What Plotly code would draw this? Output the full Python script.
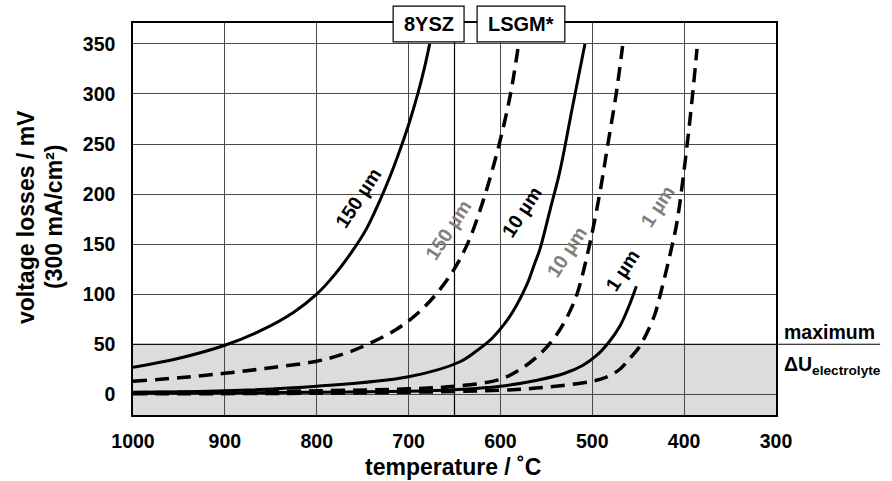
import plotly.graph_objects as go

# ---------------- data ----------------
t_ysz_150 = [1000, 950, 900, 860, 825, 800, 780, 762, 746, 732, 720, 709, 699, 690, 683, 677]
v_ysz_150 = [27, 36, 49, 64, 82, 100, 120, 142, 165, 192, 218, 245, 272, 300, 325, 350]

t_lsgm_150 = [1000, 950, 900, 850, 800, 770, 742, 713, 690, 670, 651, 635, 620, 607, 596, 588, 581]
v_lsgm_150 = [13, 16.5, 21, 26.5, 33, 40.5, 51, 65, 81, 100, 124, 152, 190, 230, 270, 305, 345]

t_ysz_10 = [1000, 900, 800, 700, 644, 625, 609, 595, 583, 571, 563, 557, 546, 535, 522, 508]
v_ysz_10 = [2, 3.5, 8, 17.5, 32.5, 44, 56, 71, 88, 110, 130, 145, 184, 224, 285, 350]

t_lsgm_10 = [1000, 900, 800, 700, 650, 600, 575, 555, 540, 527, 517, 504, 492, 483, 474, 467]
v_lsgm_10 = [1.5, 2.5, 3.5, 5.5, 8, 15, 27, 42, 58, 78, 99, 145, 200, 250, 300, 348]

t_ysz_1 = [1000, 900, 800, 700, 650, 600, 560, 530, 510, 495, 482, 470, 461, 452]
v_ysz_1 = [1, 1.5, 2, 3, 4.5, 8, 14, 21, 29, 39, 52, 68, 86, 108]

t_lsgm_1 = [1000, 800, 700, 600, 550, 500, 485, 470, 460, 449, 433, 427, 416, 408, 401, 393, 386]
v_lsgm_1 = [0.5, 1, 2, 4, 7, 13, 17, 25, 35, 47, 77, 96, 137, 171, 217, 280, 345]

x_ticks = [1000, 900, 800, 700, 600, 500, 400, 300]
y_ticks = [0, 50, 100, 150, 200, 250, 300, 350]

labels = [  # text, x, y, color
    ("150 µm", 755, 196, "black"),
    ("150 µm", 657, 164, "#808080"),
    ("10 µm", 577, 182, "black"),
    ("10 µm", 528, 142, "#808080"),
    ("1 µm", 467, 124, "black"),
    ("1 µm", 429, 188, "#808080"),
]

FONT = "Liberation Sans, Arial, Helvetica, sans-serif"
fig = go.Figure()

series = [
    (t_ysz_150, v_ysz_150, "solid"),
    (t_lsgm_150, v_lsgm_150, "dash"),
    (t_ysz_10, v_ysz_10, "solid"),
    (t_lsgm_10, v_lsgm_10, "dash"),
    (t_ysz_1, v_ysz_1, "solid"),
    (t_lsgm_1, v_lsgm_1, "dash"),
]
for t, v, st in series:
    fig.add_trace(go.Scatter(
        x=t, y=v, mode="lines", showlegend=False, hoverinfo="skip",
        line=dict(color="black", width=3 if st == "solid" else 3.5,
                  dash="solid" if st == "solid" else "14px,8px",
                  shape="spline", smoothing=1.0),
    ))

shapes = []
# grey band below the 50 mV limit
shapes.append(dict(type="rect", xref="paper", yref="y", x0=0, x1=1, y0=-25, y1=50,
                   fillcolor="#dcdcdc", line=dict(width=0), layer="below"))
# 650 degC line
shapes.append(dict(type="line", xref="x", yref="paper", x0=650, x1=650, y0=0, y1=1,
                   line=dict(color="black", width=1.2), layer="above"))
# 50 mV limit line extending to the right
shapes.append(dict(type="line", xref="paper", yref="y", x0=0, x1=1.162, y0=50, y1=50,
                   line=dict(color="black", width=1.2), layer="above"))
# boxes
for x0, x1 in [(716.8, 639.6), (625.4, 529.9)]:
    shapes.append(dict(type="rect", xref="x", yref="paper", x0=x0, x1=x1, y0=0.9516, y1=1.0433,
                       fillcolor="white", line=dict(color="black", width=1.2), layer="above"))

ann = []
ann.append(dict(text="8YSZ", x=678.2, y=0.9975, xref="x", yref="paper", showarrow=False,
                xanchor="center", yanchor="middle",
                font=dict(family=FONT, size=20, color="black", weight="bold")))
ann.append(dict(text="LSGM*", x=577.6, y=0.9975, xref="x", yref="paper", showarrow=False,
                xanchor="center", yanchor="middle",
                font=dict(family=FONT, size=20, color="black", weight="bold")))
for txt, x, y, c in labels:
    ann.append(dict(text=txt, x=x, y=y, xref="x", yref="y", showarrow=False, textangle=-57,
                    font=dict(family=FONT, size=19.5, color=c, weight="bold")))
ann.append(dict(text="maximum", x=1.0093, y=62, xref="paper", yref="y", showarrow=False,
                xanchor="left", yanchor="middle",
                font=dict(family=FONT, size=19.5, color="black", weight="bold")))
ann.append(dict(text="ΔU<sub>electrolyte</sub>", x=1.0093, y=29, xref="paper", yref="y",
                showarrow=False, xanchor="left", yanchor="middle",
                font=dict(family=FONT, size=19.5, color="black", weight="bold")))
ann.append(dict(text="temperature / ˚C", x=0.498, y=-0.1326, xref="paper", yref="paper",
                showarrow=False, xanchor="center", yanchor="middle",
                font=dict(family=FONT, size=23, color="black", weight="bold")))
ann.append(dict(text="voltage losses / mV", x=-0.1664, y=0.505, xref="paper", yref="paper",
                showarrow=False, textangle=-90, xanchor="center", yanchor="middle",
                font=dict(family=FONT, size=23, color="black", weight="bold")))
ann.append(dict(text="(300 mA/cm²)", x=-0.1229, y=0.505, xref="paper", yref="paper",
                showarrow=False, textangle=-90, xanchor="center", yanchor="middle",
                font=dict(family=FONT, size=23, color="black", weight="bold")))

fig.update_layout(
    width=892, height=481, autosize=False,
    margin=dict(l=133, r=116, t=23, b=66),
    paper_bgcolor="white", plot_bgcolor="white",
    shapes=shapes, annotations=ann,
    xaxis=dict(range=[1000, 300], tickvals=x_ticks, ticktext=[str(v) for v in x_ticks],
               showgrid=True, gridcolor="#4a4a4a", gridwidth=1, zeroline=False,
               showline=True, linecolor="black", linewidth=1.5, mirror=True,
               ticks="", ticklabelstandoff=8,
               tickfont=dict(family=FONT, size=19.5, color="black", weight="bold")),
    yaxis=dict(range=[-20.7, 370.9], tickvals=y_ticks,
               showgrid=True, gridcolor="#4a4a4a", gridwidth=1, zeroline=False,
               showline=True, linecolor="black", linewidth=1.5, mirror=True,
               ticks="", ticklabelstandoff=12,
               tickfont=dict(family=FONT, size=19.5, color="black", weight="bold")),
)

fig.write_html("out.html")
